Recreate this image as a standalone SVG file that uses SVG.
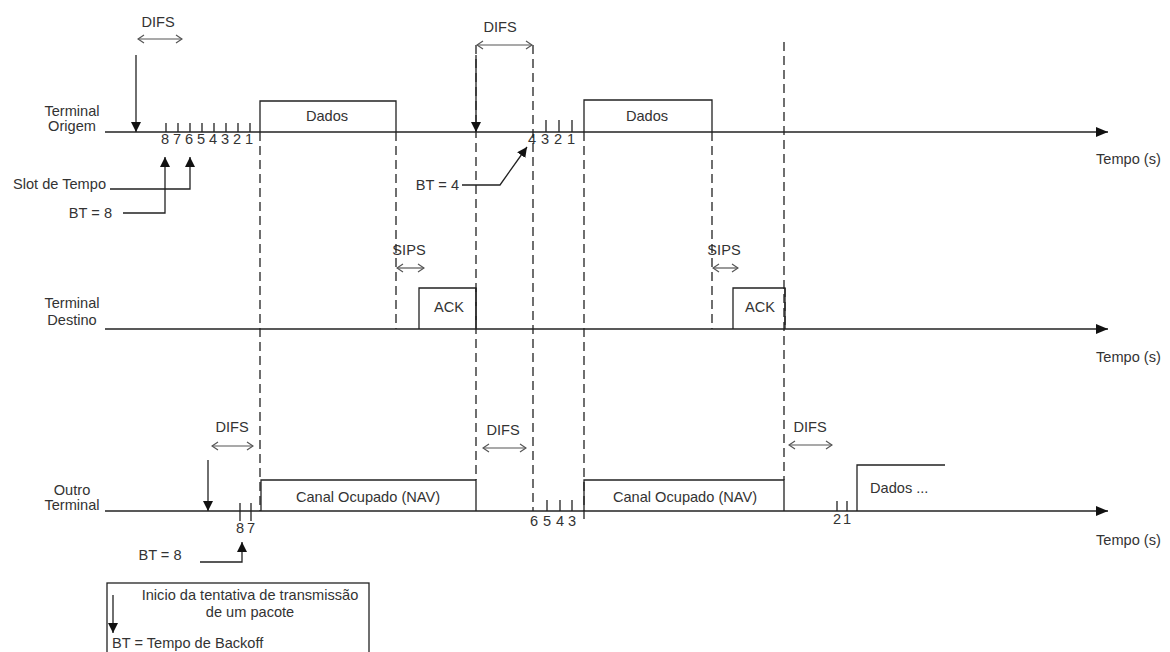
<svg xmlns="http://www.w3.org/2000/svg" width="1170" height="652" viewBox="0 0 1170 652">
<style>
text{font-family:"Liberation Sans",Arial,sans-serif;font-size:14.6px;fill:#333}
.m{text-anchor:middle}
.e{text-anchor:end}
.ln{stroke:#222;stroke-width:1.3;fill:none}
.ds{stroke:#222;stroke-width:1.3;fill:none;stroke-dasharray:9 5}
.da{stroke:#555;stroke-width:1.2;fill:none;marker-start:url(#op);marker-end:url(#op)}
.ar{stroke:#222;stroke-width:1.3;fill:none;marker-end:url(#fa)}
.ax{stroke:#222;stroke-width:1.4;fill:none;marker-end:url(#fx)}
</style>
<defs>
<marker id="fa" markerUnits="userSpaceOnUse" markerWidth="10" markerHeight="10" refX="10" refY="5" orient="auto"><path d="M0,0 L10,5 L0,10 z" fill="#111"/></marker>
<marker id="fx" markerUnits="userSpaceOnUse" markerWidth="12" markerHeight="10" refX="12" refY="5" orient="auto"><path d="M0,0 L12,5 L0,10 z" fill="#111"/></marker>
<marker id="op" markerUnits="userSpaceOnUse" markerWidth="8" markerHeight="10" refX="7" refY="5" orient="auto-start-reverse"><path d="M1,1 L7,5 L1,9" fill="none" stroke="#555" stroke-width="1.2"/></marker>
</defs>
<rect width="1170" height="652" fill="#fff"/>

<g id="origem">
<text class="m" x="72" y="116">Terminal</text>
<text class="m" x="72" y="131">Origem</text>
<path class="ax" d="M105,132 H1108"/>
<text x="1096" y="164">Tempo (s)</text>
<path class="ln" d="M166,123V132M178,123V132M190,123V132M202,123V132M214,123V132M226,123V132M238,123V132M250,123V132"/>
<g class="m">
<text x="165" y="144">8</text><text x="177" y="144">7</text><text x="189" y="144">6</text><text x="201" y="144">5</text><text x="213" y="144">4</text><text x="225" y="144">3</text><text x="237" y="144">2</text><text x="249" y="144">1</text>
</g>
<path class="ln" d="M546,120V132M559,120V132M572,120V132"/>
<g class="m">
<text x="532" y="144">4</text><text x="545" y="144">3</text><text x="558" y="144">2</text><text x="571" y="144">1</text>
</g>
</g>

<g id="dados1">
<path class="ln" d="M260,132 V101 H396 V132"/>
<text class="m" x="327" y="121">Dados</text>
</g>
<g id="dados2">
<path class="ln" d="M584,132 V100 H712 V132"/>
<text class="m" x="647" y="121">Dados</text>
</g>

<g id="destino">
<text class="m" x="72" y="308">Terminal</text>
<text class="m" x="72" y="325">Destino</text>
<path class="ax" d="M105,329 H1108"/>
<text x="1096" y="362">Tempo (s)</text>
</g>
<g id="ack1">
<path class="ln" d="M419,329 V288 H476 V329"/>
<text class="m" x="449" y="312">ACK</text>
</g>
<g id="ack2">
<path class="ln" d="M733,329 V288 H785 V329"/>
<text class="m" x="760" y="312">ACK</text>
</g>

<g id="outro">
<text class="m" x="72" y="495">Outro</text>
<text class="m" x="72" y="510">Terminal</text>
<path class="ax" d="M105,511 H1108"/>
<text x="1096" y="545">Tempo (s)</text>
<path class="ln" d="M240,503V521M251,503V521"/>
<text class="m" x="240" y="533">8</text><text class="m" x="251" y="533">7</text>
<path class="ln" d="M547,500V511M560,500V511M572,500V511"/>
<text class="m" x="534" y="526">6</text><text class="m" x="547" y="526">5</text><text class="m" x="560" y="526">4</text><text class="m" x="572" y="526">3</text>
<path class="ln" d="M837,501V511M847,501V511"/>
<text class="m" x="837" y="524">2</text><text class="m" x="847" y="524">1</text>
</g>
<g id="nav1">
<path class="ln" d="M261,511 V480 H476 V511"/>
<text class="m" x="368" y="502">Canal Ocupado (NAV)</text>
</g>
<g id="nav2">
<path class="ln" d="M584,511 V480 H784 V511"/>
<text class="m" x="685" y="502">Canal Ocupado (NAV)</text>
</g>
<g id="dados3">
<path class="ln" d="M857,511 V465 H945"/>
<text x="870" y="493">Dados ...</text>
</g>

<g id="legenda">
<rect class="ln" x="107" y="583" width="262" height="80"/>
<path class="ar" d="M113,595 V633"/>
<text class="m" x="250" y="600">Inicio da tentativa de transmissão</text>
<text class="m" x="250" y="617">de um pacote</text>
<text x="112" y="648">BT = Tempo de Backoff</text>
</g>

<g id="rotulos">
<text class="m" x="158" y="27">DIFS</text>
<text class="m" x="500" y="32">DIFS</text>
<text class="m" x="409" y="255">SIPS</text>
<text class="m" x="724" y="255">SIPS</text>
<text class="m" x="232" y="432">DIFS</text>
<text class="m" x="503" y="435">DIFS</text>
<text class="m" x="810" y="432">DIFS</text>
<text class="e" x="106" y="189">Slot de Tempo</text>
<text class="e" x="112" y="218">BT = 8</text>
<text class="e" x="459" y="190">BT = 4</text>
<text class="m" x="160" y="560">BT = 8</text>
</g>

<g id="conectores">
<path class="ds" d="M260,132 V511"/>
<path class="ds" d="M396,132 V329"/>
<path class="ds" d="M476,45 V480"/>
<path class="ds" d="M533,45 V511"/>
<path class="ds" d="M584,132 V522"/>
<path class="ds" d="M712,132 V329"/>
<path class="ds" d="M784,42 V480"/>
<path class="ds" d="M476,288 V329"/>
<path class="ds" d="M785,288 V329"/>

<path class="da" d="M138,39 H182"/>
<path class="da" d="M477,45 H532"/>
<path class="da" d="M397,268 H424"/>
<path class="da" d="M713,268 H738"/>
<path class="da" d="M212,446 H253"/>
<path class="da" d="M483,448 H526"/>
<path class="da" d="M789,445 H832"/>

<path class="ar" d="M136,55 V132"/>
<path class="ar" d="M476,55 V132"/>
<path class="ar" d="M208,460 V511"/>

<path class="ar" d="M110,189 H190 V157"/>
<path class="ar" d="M123,213 H165 V157"/>
<path class="ar" d="M462,185 H500 L527,147"/>
<path class="ar" d="M200,562 H242 V542"/>
</g>
</svg>
